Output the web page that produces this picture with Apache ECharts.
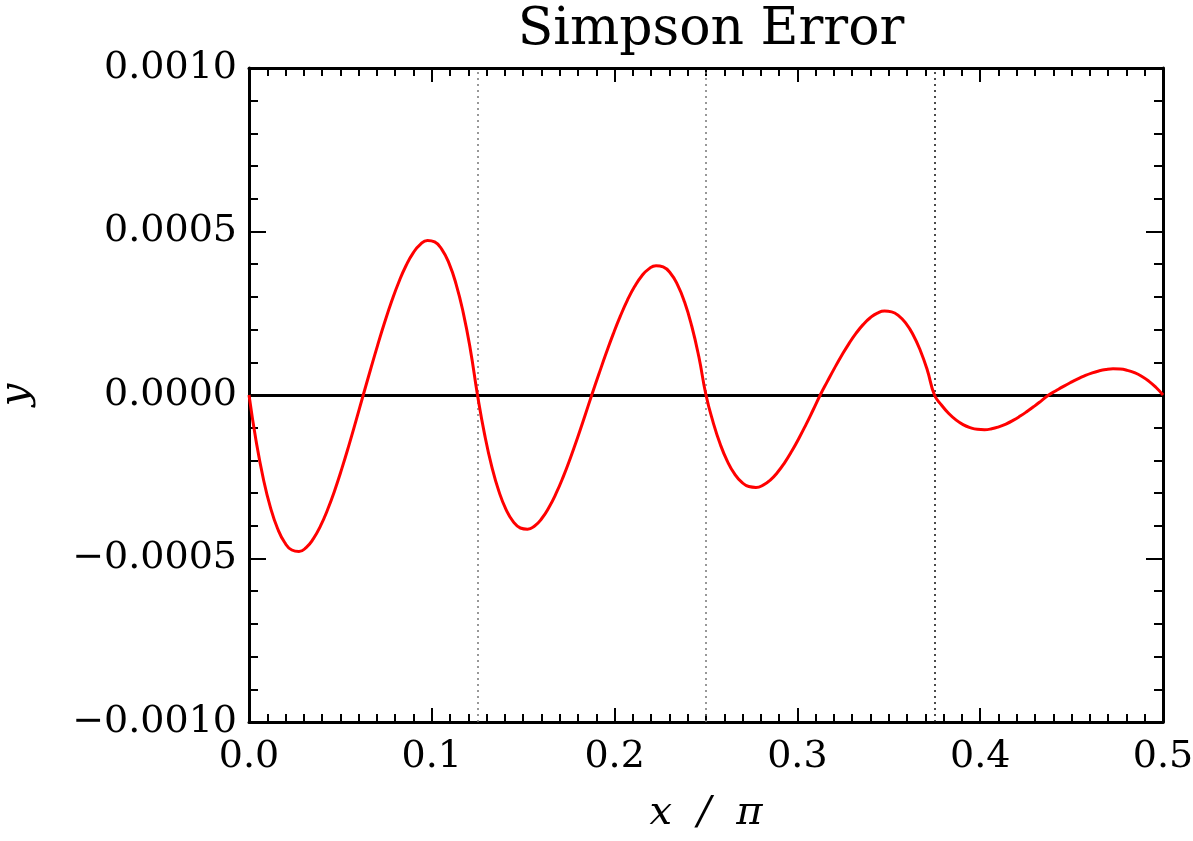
<!DOCTYPE html>
<html>
<head>
<meta charset="utf-8">
<script src="https://cdn.jsdelivr.net/npm/echarts@6/dist/echarts.min.js"></script>
<style>
html,body{margin:0;padding:0;background:#fff;}
#chart{width:1193px;height:841px;}
</style>
</head>
<body>
<div id="chart"></div>
<script>
// ---- data ----
var titleText = 'Simpson Error';
var xName = 'x  /  \u03c0';
var yName = 'y';
var xTicks = [0, 0.1, 0.2, 0.3, 0.4, 0.5];
var yTicks = [-0.001, -0.0005, 0, 0.0005, 0.001];
var panelEdges = [0.125, 0.25, 0.375];

var xs = [
 0, 0.00391, 0.00781, 0.01172, 0.01563, 0.01953, 0.02344, 0.02734, 0.03125, 0.03516, 0.03906, 0.04297, 0.04688, 0.05078, 0.05469, 0.05859, 0.0625,
 0.06641, 0.07031, 0.07422, 0.07813, 0.08203, 0.08594, 0.08984, 0.09375, 0.09766, 0.10156, 0.10547, 0.10938, 0.11328, 0.11719, 0.12109, 0.125,
 0.12891, 0.13281, 0.13672, 0.14063, 0.14453, 0.14844, 0.15234, 0.15625, 0.16016, 0.16406, 0.16797, 0.17188, 0.17578, 0.17969, 0.18359, 0.1875,
 0.19141, 0.19531, 0.19922, 0.20313, 0.20703, 0.21094, 0.21484, 0.21875, 0.22266, 0.22656, 0.23047, 0.23438, 0.23828, 0.24219, 0.24609, 0.25,
 0.25391, 0.25781, 0.26172, 0.26563, 0.26953, 0.27344, 0.27734, 0.28125, 0.28516, 0.28906, 0.29297, 0.29688, 0.30078, 0.30469, 0.30859, 0.3125,
 0.31641, 0.32031, 0.32422, 0.32813, 0.33203, 0.33594, 0.33984, 0.34375, 0.34766, 0.35156, 0.35547, 0.35938, 0.36328, 0.36719, 0.37109, 0.375,
 0.37891, 0.38281, 0.38672, 0.39063, 0.39453, 0.39844, 0.40234, 0.40625, 0.41016, 0.41406, 0.41797, 0.42188, 0.42578, 0.42969, 0.43359, 0.4375,
 0.44141, 0.44531, 0.44922, 0.45313, 0.45703, 0.46094, 0.46484, 0.46875, 0.47266, 0.47656, 0.48047, 0.48438, 0.48828, 0.49219, 0.49609, 0.5
];
var ys = [
 0, -141.3e-6, -255.2e-6, -343.6e-6, -408.3e-6, -451.2e-6, -474.0e-6, -478.5e-6, -466.7e-6, -440.2e-6, -401.1e-6, -350.9e-6, -291.7e-6, -225.1e-6, -153.1e-6, -77.5e-6, 0,
 76.5e-6, 151.2e-6, 222.3e-6, 288.0e-6, 346.5e-6, 396.0e-6, 434.7e-6, 460.8e-6, 472.5e-6, 468.0e-6, 445.5e-6, 403.2e-6, 339.3e-6, 252.0e-6, 139.5e-6, 0,
 -121.2e-6, -219.0e-6, -294.8e-6, -350.4e-6, -387.1e-6, -406.7e-6, -410.6e-6, -400.4e-6, -377.7e-6, -344.1e-6, -301.1e-6, -250.3e-6, -193.2e-6, -131.4e-6, -66.5e-6, 0,
 64.1e-6, 126.6e-6, 186.1e-6, 241.1e-6, 290.1e-6, 331.6e-6, 364.0e-6, 385.8e-6, 395.6e-6, 391.8e-6, 373.0e-6, 337.6e-6, 284.1e-6, 211.0e-6, 116.8e-6, 0,
 -83.5e-6, -150.8e-6, -203.0e-6, -241.3e-6, -266.6e-6, -280.0e-6, -282.7e-6, -275.7e-6, -260.1e-6, -236.9e-6, -207.3e-6, -172.3e-6, -133.0e-6, -90.5e-6, -45.8e-6, 0,
 41.6e-6, 82.2e-6, 120.8e-6, 156.5e-6, 188.3e-6, 215.2e-6, 236.2e-6, 250.4e-6, 256.7e-6, 254.3e-6, 242.1e-6, 219.1e-6, 184.4e-6, 136.9e-6, 75.8e-6, 0,
 -31.3e-6, -56.5e-6, -76.0e-6, -90.4e-6, -99.8e-6, -104.9e-6, -105.9e-6, -103.3e-6, -97.4e-6, -88.8e-6, -77.7e-6, -64.5e-6, -49.8e-6, -33.9e-6, -17.1e-6, 0,
 12.9e-6, 25.6e-6, 37.6e-6, 48.7e-6, 58.6e-6, 67.0e-6, 73.5e-6, 77.9e-6, 79.9e-6, 79.2e-6, 75.4e-6, 68.2e-6, 57.4e-6, 42.6e-6, 23.6e-6, 0
];

// ---- chart ----
var FONT = '"DejaVu Serif", "Liberation Serif", serif';
var curve = xs.map(function (x, i) { return [x, ys[i]]; });

function xFmt(v) { return (Math.abs(v) < 1e-12 ? 0 : v).toFixed(1); }
function yFmt(v) {
  if (Math.abs(v) < 1e-12) return '0.0000';
  var s = Math.abs(v).toFixed(4);
  return v < 0 ? '\u2212' + s : s;
}

var xCommon = {
  type: 'value', min: xTicks[0], max: xTicks[xTicks.length - 1], interval: xTicks[1] - xTicks[0],
  splitLine: { show: false },
  axisLine: { show: true, onZero: false, lineStyle: { color: '#000', width: 3 } },
  axisTick: { show: true, inside: true, length: 14, lineStyle: { color: '#000', width: 2 } },
  minorTick: { show: true, splitNumber: 10, length: 8, lineStyle: { color: '#000', width: 2 } },
  minorSplitLine: { show: false }
};
var yCommon = {
  type: 'value', min: yTicks[0], max: yTicks[yTicks.length - 1], interval: yTicks[1] - yTicks[0],
  splitLine: { show: false },
  axisLine: { show: true, onZero: false, lineStyle: { color: '#000', width: 3 } },
  axisTick: { show: true, inside: true, length: 17, lineStyle: { color: '#000', width: 2 } },
  minorTick: { show: true, splitNumber: 5, length: 9, lineStyle: { color: '#000', width: 2 } },
  minorSplitLine: { show: false }
};

var option = {
  animation: false,
  backgroundColor: '#fff',
  title: {
    text: titleText, left: 706, top: -1, textAlign: 'center',
    textStyle: { fontFamily: FONT, fontSize: 52, fontWeight: 'normal', color: '#000' }
  },
  grid: { left: 249, right: 30, top: 68, bottom: 119, containLabel: false, outerBoundsMode: 'none' },
  xAxis: [
    Object.assign({}, xCommon, {
      position: 'bottom',
      name: xName, nameLocation: 'middle', nameGap: 72,
      nameTextStyle: { fontFamily: FONT, fontStyle: 'italic', fontSize: 40, color: '#000' },
      axisLabel: { show: true, margin: 16, formatter: xFmt, showMinLabel: true, showMaxLabel: true,
        fontFamily: FONT, fontSize: 38, color: '#000' }
    }),
    Object.assign({}, xCommon, { position: 'top', axisLabel: { show: false } })
  ],
  yAxis: [
    Object.assign({}, yCommon, {
      position: 'left',
      name: yName, nameLocation: 'middle', nameGap: 212, nameRotate: 90,
      nameTextStyle: { fontFamily: FONT, fontStyle: 'italic', fontSize: 40, color: '#000' },
      axisLabel: { show: true, margin: 12, formatter: yFmt, showMinLabel: true, showMaxLabel: true,
        fontFamily: FONT, fontSize: 38, color: '#000' }
    }),
    Object.assign({}, yCommon, { position: 'right', axisLabel: { show: false } })
  ],
  series: [
    {
      type: 'line', xAxisIndex: 0, yAxisIndex: 0, symbol: 'none', silent: true,
      data: [],
      markLine: {
        silent: true, symbol: ['none', 'none'], label: { show: false }, precision: 6,
        data: [
          { yAxis: 0, lineStyle: { color: '#000', width: 3, type: 'solid' } }
        ].concat(panelEdges.map(function (e, i) {
          return { xAxis: e, lineStyle: { color: i === 2 ? '#111' : '#777', width: 1.5, type: [2, 4] } };
        })),
        emphasis: { disabled: true }
      },
      z: 1
    },
    {
      type: 'line', xAxisIndex: 0, yAxisIndex: 0, data: curve, symbol: 'none', smooth: true,
      lineStyle: { color: '#ff0000', width: 3 }, z: 5, silent: true
    }
  ]
};

var chart = echarts.init(document.getElementById('chart'), null, { renderer: 'canvas' });
chart.setOption(option);
</script>
</body>
</html>
